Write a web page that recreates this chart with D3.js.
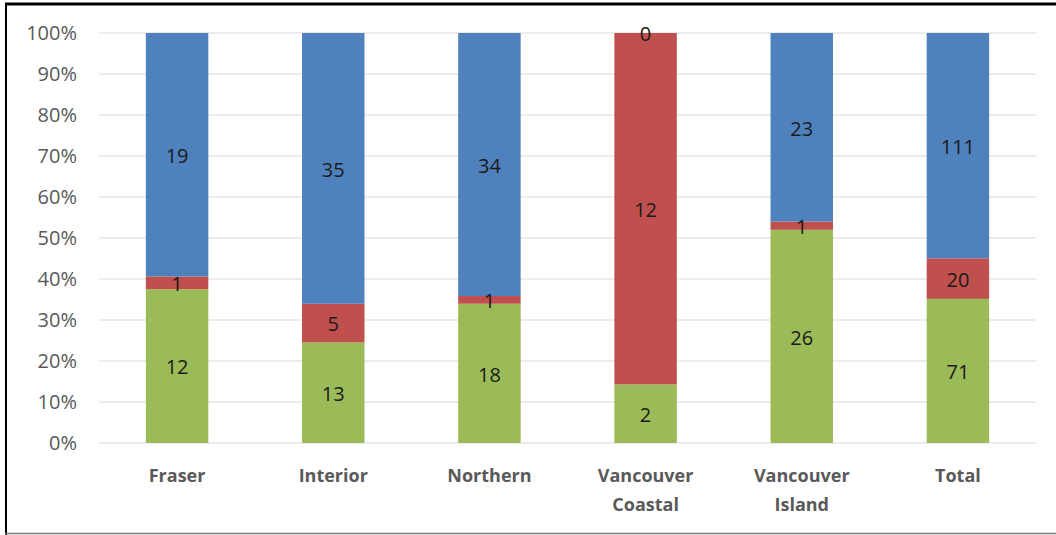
<!DOCTYPE html>
<html>
<head>
<meta charset="utf-8">
<script src="https://cdn.jsdelivr.net/npm/d3@7"></script>
<style>
  body { margin: 0; background: #fff; }
  svg { display: block; }
</style>
</head>
<body>
<svg id="chart" width="1056" height="535"></svg>
<script>
var categories = [["Fraser"], ["Interior"], ["Northern"], ["Vancouver", "Coastal"], ["Vancouver", "Island"], ["Total"]];
var green_vals = [12, 13, 18, 2, 26, 71];
var red_vals   = [1, 5, 1, 12, 1, 20];
var blue_vals  = [19, 35, 34, 0, 23, 111];
var y_ticks = [0, 0.1, 0.2, 0.3, 0.4, 0.5, 0.6, 0.7, 0.8, 0.9, 1];

var series = [
  {name: "green", color: "#9BBB59", vals: green_vals},
  {name: "red",   color: "#C0504D", vals: red_vals},
  {name: "blue",  color: "#4F81BD", vals: blue_vals}
];

var width = 1056, height = 535;
var margin = {top: 33, right: 20, bottom: 92, left: 99};
var svg = d3.select("#chart");
var font = "'Open Sans', sans-serif";

// frame
svg.append("line").attr("x1", 5).attr("x2", width).attr("y1", 4).attr("y2", 4)
  .attr("stroke", "#000").attr("stroke-width", 3);
svg.append("line").attr("x1", 6).attr("x2", 6).attr("y1", 3).attr("y2", height)
  .attr("stroke", "#000").attr("stroke-width", 2);
svg.append("line").attr("x1", 5).attr("x2", width).attr("y1", 533.5).attr("y2", 533.5)
  .attr("stroke", "#7a7a7a").attr("stroke-width", 1.5);

var x = d3.scaleBand()
  .domain(d3.range(categories.length))
  .range([margin.left, width - margin.right])
  .paddingInner(0.6).paddingOuter(0.3);

var y = d3.scaleLinear().domain([0, 1]).range([height - margin.bottom, margin.top]);

// gridlines
svg.append("g").selectAll("line").data(y_ticks).enter().append("line")
  .attr("x1", margin.left).attr("x2", width - margin.right)
  .attr("y1", function(d){ return y(d) }).attr("y2", function(d){ return y(d) })
  .attr("stroke", "#D9D9D9").attr("stroke-width", 1);

// y axis labels
var yAxis = d3.axisLeft(y).tickValues(y_ticks).tickFormat(d3.format(".0%")).tickSize(0).tickPadding(22);
var ya = svg.append("g").attr("transform", "translate(" + margin.left + ",0)").call(yAxis);
ya.select(".domain").remove();
ya.selectAll("text").attr("font-family", font).attr("font-size", 20).attr("fill", "#595959");

// stacked percentages
var rows = d3.range(categories.length).map(function(i){
  var total = green_vals[i] + red_vals[i] + blue_vals[i];
  var acc = 0;
  return series.map(function(s){
    var seg = {i: i, v: s.vals[i], color: s.color, y0: acc / total};
    acc += s.vals[i];
    seg.y1 = acc / total;
    return seg;
  });
});
var segs = [].concat.apply([], rows);

svg.append("g").selectAll("rect").data(segs).enter().append("rect")
  .attr("x", function(d){ return x(d.i) })
  .attr("width", x.bandwidth())
  .attr("y", function(d){ return y(d.y1) })
  .attr("height", function(d){ return y(d.y0) - y(d.y1) })
  .attr("fill", function(d){ return d.color });

svg.append("g").selectAll("text").data(segs).enter().append("text")
  .attr("x", function(d){ return x(d.i) + x.bandwidth() / 2 })
  .attr("y", function(d){ return y((d.y0 + d.y1) / 2) + 1 })
  .attr("dy", "0.36em")
  .attr("text-anchor", "middle")
  .attr("font-family", font).attr("font-size", 20).attr("fill", "#1a1a1a")
  .text(function(d){ return d.v });

// category labels
var cl = svg.append("g").selectAll("text").data(categories).enter().append("text")
  .attr("x", function(d, i){ return x(i) + x.bandwidth() / 2 })
  .attr("y", 482)
  .attr("text-anchor", "middle")
  .attr("font-family", font).attr("font-size", 18).attr("font-weight", "bold").attr("fill", "#595959");
cl.selectAll("tspan").data(function(d){ return d }).enter().append("tspan")
  .attr("x", function(){ return d3.select(this.parentNode).attr("x") })
  .attr("dy", function(d, j){ return j == 0 ? 0 : 29 })
  .text(function(d){ return d });
</script>
</body>
</html>
